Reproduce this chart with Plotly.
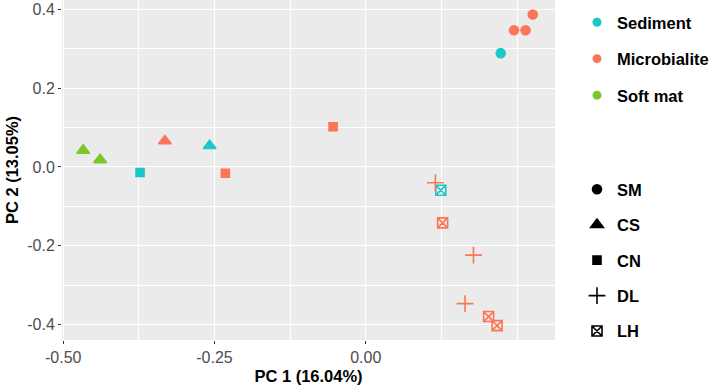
import plotly.graph_objects as go

# ---- data ----
pc1 = [0.276, 0.245, 0.264, 0.223,
       0.115, 0.124, 0.127, 0.178, 0.164, 0.203, 0.217,
       -0.467, -0.439, -0.332, -0.258, -0.373, -0.232, -0.054]
pc2 = [0.387, 0.347, 0.347, 0.289,
       -0.040, -0.059, -0.142, -0.224, -0.347, -0.380, -0.403,
       0.042, 0.018, 0.066, 0.054, -0.014, -0.016, 0.102]
habitat = ["Microbialite", "Microbialite", "Microbialite", "Sediment",
           "Microbialite", "Sediment", "Microbialite", "Microbialite", "Microbialite", "Microbialite", "Microbialite",
           "Soft mat", "Soft mat", "Microbialite", "Sediment", "Sediment", "Microbialite", "Microbialite"]
site = ["SM", "SM", "SM", "SM",
        "DL", "LH", "LH", "DL", "DL", "LH", "LH",
        "CS", "CS", "CS", "CS", "CN", "CN", "CN"]

habitats = ["Sediment", "Microbialite", "Soft mat"]
sites = ["SM", "CS", "CN", "DL", "LH"]

colors = {"Sediment": "#1BC7C9", "Microbialite": "#FB7659", "Soft mat": "#7DC62A"}
symbols = {"SM": "circle", "CS": "triangle-up", "CN": "square",
           "DL": "cross-thin-open", "LH": "square-x-open"}
sizes = {"SM": 9, "CS": 11, "CN": 8, "DL": 12, "LH": 10}

FONT = "Liberation Sans, Arial, sans-serif"

fig = go.Figure()

for h in habitats:
    for s in sites:
        idx = [i for i in range(len(pc1)) if habitat[i] == h and site[i] == s]
        if not idx:
            continue
        fig.add_trace(go.Scatter(
            x=[pc1[i] for i in idx], y=[pc2[i] for i in idx],
            mode="markers", showlegend=False,
            marker=dict(symbol=symbols[s], size=sizes[s], color=colors[h],
                        line=dict(color=colors[h], width=1.6)),
            hoverinfo="x+y",
        ))

# legend: colour (habitat)
for h in habitats:
    fig.add_trace(go.Scatter(
        x=[None], y=[None], mode="markers", name=h, legend="legend",
        legendgroup=h,
        marker=dict(symbol="circle", size=9, color=colors[h]),
    ))
# legend: shape (site)
for s in sites:
    fig.add_trace(go.Scatter(
        x=[None], y=[None], mode="markers", name=s, legend="legend2",
        legendgroup=s,
        marker=dict(symbol=symbols[s], size=sizes[s], color="black",
                    line=dict(color="black", width=1.6)),
    ))

axis_common = dict(
    showgrid=True, gridcolor="white", gridwidth=1.2,
    zeroline=False, showline=False, automargin=False,
    ticks="outside", ticklen=3, tickcolor="#333333", tickwidth=1,
    tickfont=dict(family=FONT, size=16, color="#4D4D4D"),
)

fig.update_layout(
    width=709, height=388,
    margin=dict(l=62, r=154, t=0, b=48),
    paper_bgcolor="white", plot_bgcolor="#EBEBEB",
    font=dict(family=FONT, size=16, color="black"),
    xaxis=dict(range=[-0.502, 0.3127], tickvals=[-0.5, -0.25, 0.0],
               ticktext=["-0.50", "-0.25", "0.00"],
               minor=dict(dtick=0.125, tick0=0, showgrid=True, gridcolor="white", gridwidth=0.6, ticks=""),
               title=dict(text="<b>PC 1 (16.04%)</b>", font=dict(family=FONT, size=16.5, color="black"), standoff=5),
               **axis_common),
    yaxis=dict(range=[-0.4395, 0.424], tickvals=[-0.4, -0.2, 0.0, 0.2, 0.4],
               ticktext=["-0.4", "-0.2", "0.0", "0.2", "0.4"],
               minor=dict(dtick=0.1, tick0=0, showgrid=True, gridcolor="white", gridwidth=0.6, ticks=""),
               title=dict(text="<b>PC 2 (13.05%)</b>", font=dict(family=FONT, size=16.5, color="black"), standoff=4),
               **axis_common),
    legend=dict(xref="container", yref="container", x=577 / 709, y=1 - 5 / 388,
                xanchor="left", yanchor="top", tracegroupgap=12,
                bgcolor="rgba(0,0,0,0)",
                font=dict(family=FONT, size=16.5, color="black", weight="bold")),
    legend2=dict(xref="container", yref="container", x=577 / 709, y=1 - 172 / 388,
                 xanchor="left", yanchor="top", tracegroupgap=11,
                 bgcolor="rgba(0,0,0,0)",
                 font=dict(family=FONT, size=16.5, color="black", weight="bold")),
)

fig.write_html("out.html", config={"displayModeBar": False},
               post_script="document.body.style.margin='0px';document.body.style.overflow='hidden';")
